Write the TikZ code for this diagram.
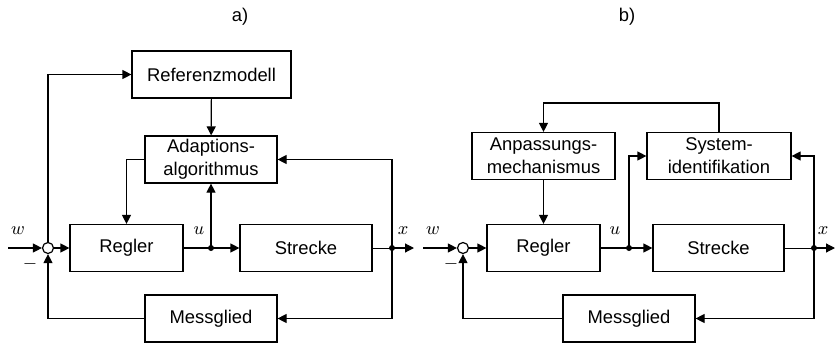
\documentclass[tikz,border=0pt]{standalone}
\usepackage{fontspec}
\setmainfont{Liberation Sans}
\usetikzlibrary{arrows.meta}

\tikzset{
  block/.style={draw, rectangle, minimum height=23.5pt, inner sep=1pt, align=center,
                font=\fontsize{9.2}{11.5}\selectfont},
  sumpt/.style={draw, circle, minimum size=5.5pt, inner sep=0pt},
  junc/.style={circle, fill, minimum size=3pt, inner sep=0pt},
  sig/.style={-{Triangle[length=4.5pt,width=4.5pt]}},
  lbl/.style={inner sep=0pt, font=\fontsize{9.2}{11}\selectfont},
}

\begin{document}
\begin{tikzpicture}[x=0.5pt, y=-0.5pt, line width=0.6pt]
    \useasboundingbox (0,0) rectangle (836,343);

    % a) model reference adaptive control
    \node[lbl] (capA) at (240,17) {a)};
    \node[block, minimum width=79.5pt] (refA) at (211.5,74.5) {Referenzmodell};
    \node[block, minimum width=66pt] (adaA) at (211,159.5) {Adaptions-\\algorithmus};
    \node[block, minimum width=56.5pt] (regA) at (126.5,248) {Regler};
    \node[block, minimum width=66pt] (strA) at (306,248) {Strecke};
    \node[block, minimum width=66pt] (mesA) at (211,318.5) {Messglied};
    \node[sumpt] (sumA) at (48,248) {};
    \coordinate (inA) at (8,248);
    \coordinate (uA) at (211,248);
    \coordinate (xA) at (392,248);
    \coordinate (outA) at (414,248);

    \draw[sig] (inA) -- (sumA);
    \draw[sig] (sumA) -- (regA);
    \draw (regA) -- (uA);
    \draw[sig] (uA) -- (strA);
    \draw[line width=0.35pt] (strA) -- (xA);
    \draw[sig] (xA) -- (outA);
    \draw[sig] (uA) -- (adaA);
    \draw[sig] (sumA.north) |- (refA.west);
    \draw[sig] (refA) -- (adaA);
    \draw[sig] (adaA.west) -| (regA.north);
    \draw[sig] (xA) |- (adaA.east);
    \draw[sig] (xA) |- (mesA.east);
    \draw[sig] (mesA.west) -| (sumA.south);
    \node[junc] at (uA) {};
    \node[junc] at (xA) {};

    \node[lbl] (wA) at (18,231) {$w$};
    \node[lbl] (uAl) at (199,231) {$u$};
    \node[lbl] (xAl) at (403,231) {$x$};
    \node[lbl] (mA) at (30,264) {$-$};

    % b) self-tuning control
    \node[lbl] (capB) at (627,17) {b)};
    \node[block, minimum width=71.5pt] (anpB) at (543.5,156) {Anpassungs-\\mechanismus};
    \node[block, minimum width=72pt] (sysB) at (719,156) {System-\\identifikation};
    \node[block, minimum width=56.5pt] (regB) at (543.5,248) {Regler};
    \node[block, minimum width=65.5pt] (strB) at (718.5,248) {Strecke};
    \node[block, minimum width=66pt] (mesB) at (629,318.5) {Messglied};
    \node[sumpt] (sumB) at (463,248) {};
    \coordinate (inB) at (423,248);
    \coordinate (uB) at (629,248);
    \coordinate (xB) at (814,248);
    \coordinate (outB) at (835,248);
    \coordinate (topB) at (719,103);

    \draw[sig] (inB) -- (sumB);
    \draw[sig] (sumB) -- (regB);
    \draw (regB) -- (uB);
    \draw[sig] (uB) -- (strB);
    \draw[line width=0.35pt] (strB) -- (xB);
    \draw[sig] (xB) -- (outB);
    \draw[sig] (uB) |- (sysB.west);
    \draw[sig] (sysB.north) -- (topB) -| (anpB.north);
    \draw[sig] (anpB) -- (regB);
    \draw[sig] (xB) |- (sysB.east);
    \draw[sig] (xB) |- (mesB.east);
    \draw[sig] (mesB.west) -| (sumB.south);
    \node[junc] at (uB) {};
    \node[junc] at (xB) {};

    \node[lbl] (wB) at (433,231) {$w$};
    \node[lbl] (uBl) at (615,231) {$u$};
    \node[lbl] (xBl) at (823,231) {$x$};
    \node[lbl] (mB) at (451,264) {$-$};
\end{tikzpicture}
\end{document}
